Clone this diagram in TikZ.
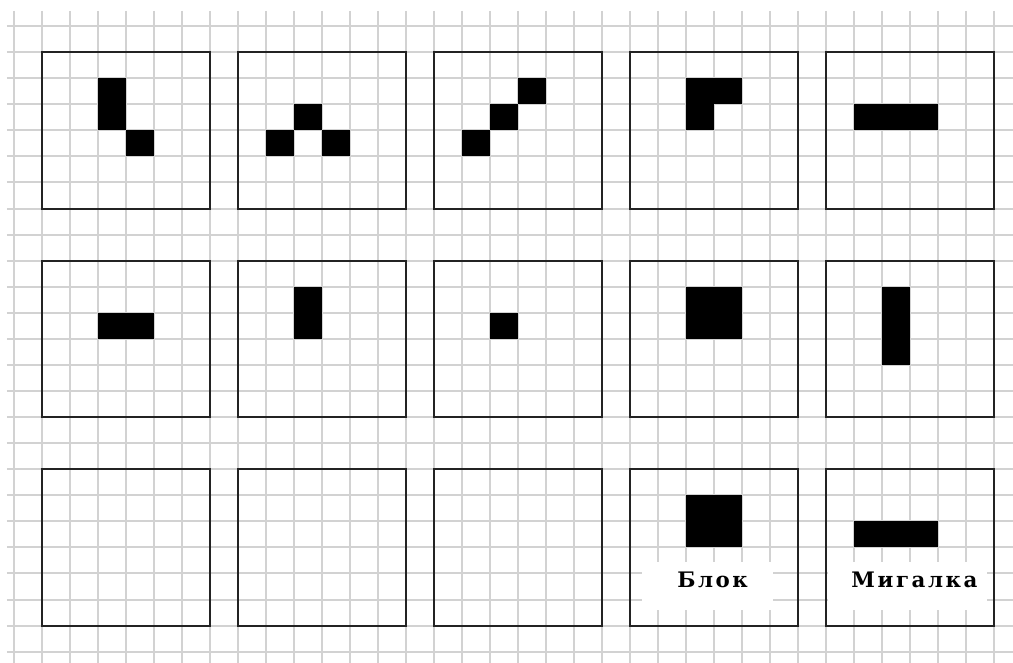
\documentclass[tikz,border=0pt]{standalone}
\usepackage{fontspec}
\usepackage{tikz}
\newfontfamily\labelfont[LetterSpace=12]{DejaVu Serif}
\definecolor{gridgray}{RGB}{210,210,210}
\definecolor{framegray}{RGB}{35,35,35}
% one board: left column, top row, list of live cells dx/dy
\newcommand{\lifecells}[3]{%
  \foreach \dc/\dr in {#3}
    \fill[black] ({#1+\dc},{#2+\dr}) rectangle ++(1,1);}

\begin{document}
\begin{tikzpicture}[x=21pt,y=-19.55pt,
    gridline/.style={gridgray,line width=1.5pt},
    board/.style={framegray,line width=1.5pt},
    tag/.style={anchor=base,inner sep=0pt,font=\labelfont\bfseries\fontsize{16}{18}\selectfont}]
  \useasboundingbox (-0.5,0) rectangle (35.68,25.43);
  % squared paper
  \foreach \c in {0,...,35}
    \draw[gridline] (\c,0.42) -- (\c,25.43);
  \foreach \r in {1,...,25}
    \draw[gridline] (-0.25,\r) -- (35.68,\r);
  % white patches under the names
  \fill[white] (22.43,21.56) rectangle (27.1,23.4);
  \fill[white] (29.07,21.56) rectangle (34.75,23.4);
  % boards, three rows of five
  \foreach \r in {2,10,18}
    \foreach \c in {1,8,15,22,29}
      \draw[board] (\c,\r) rectangle ++(6,6);
  % first row
  \lifecells{1}{2}{2/1,2/2,3/3}
  \lifecells{8}{2}{2/2,1/3,3/3}
  \lifecells{15}{2}{3/1,2/2,1/3}
  \lifecells{22}{2}{2/1,3/1,2/2}
  \lifecells{29}{2}{1/2,2/2,3/2}
  % second row
  \lifecells{1}{10}{2/2,3/2}
  \lifecells{8}{10}{2/1,2/2}
  \lifecells{15}{10}{2/2}
  \lifecells{22}{10}{2/1,3/1,2/2,3/2}
  \lifecells{29}{10}{2/1,2/2,2/3}
  % third row
  \lifecells{22}{18}{2/1,3/1,2/2,3/2}
  \lifecells{29}{18}{1/2,2/2,3/2}
  \node[tag] (blok) at (24.95,22.55) {Блок};
  \node[tag] (migalka) at (32.16,22.55) {Мигалка};
\end{tikzpicture}
\end{document}
